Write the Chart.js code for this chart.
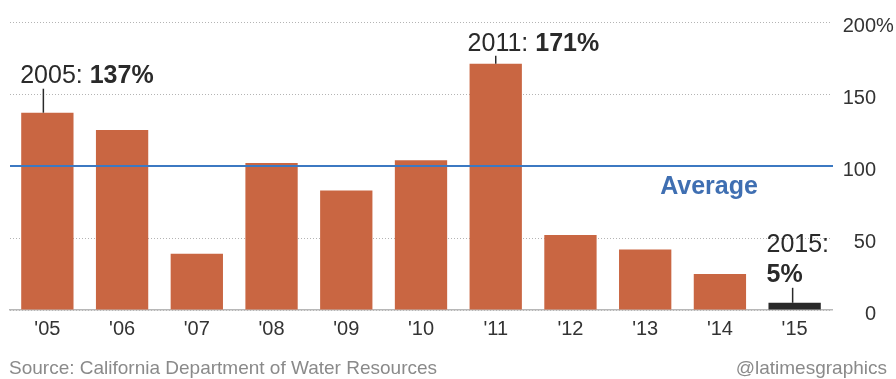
<!DOCTYPE html>
<html>
<head>
<meta charset="utf-8">
<script src="https://cdn.jsdelivr.net/npm/chart.js@4"></script>
<style>
html, body { margin: 0; padding: 0; background: #fff; }
canvas { display: block; }
</style>
</head>
<body>
<canvas id="snowpackChart" width="896" height="379"></canvas>
<script>
// Water year labels shown under the bars
const yearLabels = ["'05", "'06", "'07", "'08", "'09", "'10", "'11", "'12", "'13", "'14", "'15"];
// Full years, used for the callouts
const fullYears = ['2005', '2006', '2007', '2008', '2009', '2010', '2011', '2012', '2013', '2014', '2015'];
// Percent of average
const percentOfAverage = [137, 125, 39, 102, 83, 104, 171, 52, 42, 25, 5];
// Right axis ticks
const yTickValues = [0, 50, 100, 150, 200];
const averageValue = 100;
// Bars that get a callout
const calloutIndexes = [0, 6, 10];
const sourceText = 'Source: California Department of Water Resources';
const creditText = '@latimesgraphics';

const FONT = '"Liberation Sans", Arial, Helvetica, sans-serif';
const barColors = percentOfAverage.map((v, i) => i === percentOfAverage.length - 1 ? '#2a2a2a' : '#c96642');

// Draws the text pieces "2005: " + bold "137%"
function drawCallout(ctx, x, y, normalText, boldText) {
    ctx.font = '25px ' + FONT;
    ctx.fillText(normalText, x, y);
    const w = ctx.measureText(normalText).width;
    ctx.font = 'bold 25px ' + FONT;
    ctx.fillText(boldText, x + w, y);
}

function leader(ctx, x, y1, y2) {
    ctx.beginPath();
    ctx.moveTo(x, y1);
    ctx.lineTo(x, y2);
    ctx.stroke();
}

const overlayPlugin = {
    id: 'overlay',
    afterDatasetsDraw(chart) {
        const ctx = chart.ctx;
        const area = chart.chartArea;
        const yScale = chart.scales.y;
        const bars = chart.getDatasetMeta(0).data;
        ctx.save();

        //Average line across the whole plot
        const avgY = yScale.getPixelForValue(averageValue);
        ctx.strokeStyle = '#3c79c2';
        ctx.lineWidth = 2;
        ctx.beginPath();
        ctx.moveTo(area.left, avgY);
        ctx.lineTo(area.right + 1, avgY);
        ctx.stroke();
        ctx.fillStyle = '#3f6fb2';
        ctx.font = 'bold 25px ' + FONT;
        ctx.textAlign = 'left';
        ctx.textBaseline = 'alphabetic';
        ctx.fillText('Average', bars[8].x + 15, avgY + 28);

        //Callouts
        ctx.fillStyle = '#2a2a2a';
        ctx.strokeStyle = '#2a2a2a';
        ctx.lineWidth = 1.5;
        calloutIndexes.forEach(i => {
            const bar = bars[i];
            const left = bar.x - bar.width / 2;
            const pct = percentOfAverage[i] + '%';
            if (i === 0) {
                drawCallout(ctx, left - 1, bar.y - 30, fullYears[i] + ': ', pct);
                leader(ctx, bar.x - 4, bar.y - 24, bar.y);
            } else if (i === 6) {
                drawCallout(ctx, left - 2, bar.y - 13, fullYears[i] + ': ', pct);
                leader(ctx, bar.x, bar.y - 8, bar.y);
            } else {
                ctx.font = '25px ' + FONT;
                ctx.fillText(fullYears[i] + ':', left - 2, bar.y - 51);
                ctx.font = 'bold 25px ' + FONT;
                ctx.fillText(pct, left - 2, bar.y - 21);
                leader(ctx, bar.x - 2, bar.y - 15, bar.y);
            }
        });
        ctx.restore();
    },
    afterDraw(chart) {
        const ctx = chart.ctx;
        const yScale = chart.scales.y;
        ctx.save();
        //Percent sign hangs after the top tick
        ctx.font = '20px ' + FONT;
        ctx.fillStyle = '#333';
        ctx.textAlign = 'left';
        ctx.textBaseline = 'middle';
        ctx.fillText('%', yScale.right, yScale.getPixelForValue(yTickValues[yTickValues.length - 1]) + 4);

        //Footer
        ctx.font = '19px ' + FONT;
        ctx.fillStyle = '#8a8a8a';
        ctx.textBaseline = 'alphabetic';
        ctx.fillText(sourceText, 9, 374);
        ctx.textAlign = 'right';
        ctx.fillText(creditText, 887, 374);
        ctx.restore();
    }
};

const canvas = document.getElementById('snowpackChart').getContext('2d');
const chart = new Chart(canvas, {
    type: 'bar',
    data: {
        labels: yearLabels,
        datasets: [{
            data: percentOfAverage,
            backgroundColor: barColors,
            borderWidth: 0,
            barPercentage: 0.7,
            categoryPercentage: 1
        }]
    },
    options: {
        responsive: false,
        animation: false,
        devicePixelRatio: 1,
        layout: { padding: { left: 10, top: 17, right: 20, bottom: 0 } },
        plugins: {
            legend: { display: false },
            tooltip: { enabled: false }
        },
        scales: {
            x: {
                grid: { display: false, drawTicks: false },
                border: { display: true, color: '#b8b8b8', width: 1.5 },
                ticks: {
                    color: '#333',
                    padding: 7,
                    font: { family: FONT, size: 20 }
                },
                afterFit(scale) { scale.height = 69; }
            },
            y: {
                position: 'right',
                min: 0,
                max: 200,
                afterBuildTicks(scale) {
                    scale.ticks = yTickValues.map(v => ({ value: v }));
                },
                grid: { color: '#b4b4b4', lineWidth: 1, drawTicks: false },
                border: { display: false, dash: [1, 2] },
                ticks: {
                    color: '#333',
                    crossAlign: 'far',
                    padding: 10,
                    labelOffset: 4,
                    font: { family: FONT, size: 20 },
                    callback: v => String(v)
                },
                afterFit(scale) { scale.width = 44; }
            }
        }
    },
    plugins: [overlayPlugin]
});
</script>
</body>
</html>
